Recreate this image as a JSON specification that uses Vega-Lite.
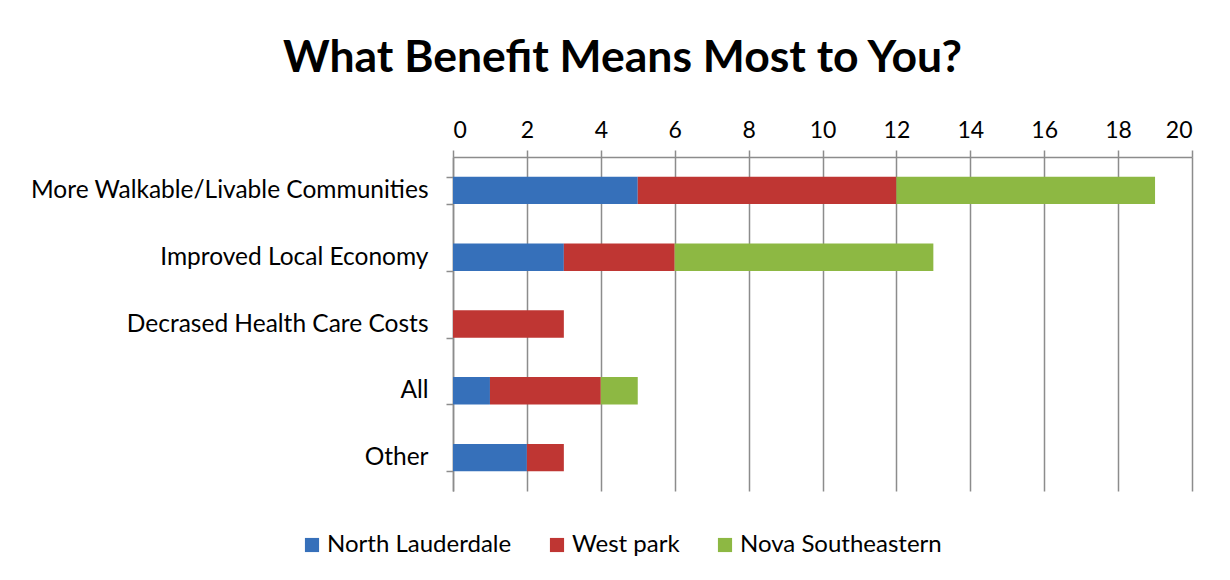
{
  "$schema": "https://vega.github.io/schema/vega-lite/v6.json",
  "width": 739,
  "height": 334,
  "autosize": "none",
  "padding": {"left": 453, "top": 157, "right": 38, "bottom": 89},
  "background": "white",
  "title": {
    "text": "What Benefit Means Most to You?",
    "font": "Lato",
    "fontSize": 44.5,
    "fontWeight": "bold",
    "color": "#000000",
    "anchor": "middle",
    "dx": -200,
    "offset": 38
  },
  "data": {
    "values": [
      {"benefit": "More Walkable/Livable Communities", "group": "North Lauderdale", "ord": 1, "count": 5},
      {"benefit": "More Walkable/Livable Communities", "group": "West park", "ord": 2, "count": 7},
      {"benefit": "More Walkable/Livable Communities", "group": "Nova Southeastern", "ord": 3, "count": 7},
      {"benefit": "Improved Local Economy", "group": "North Lauderdale", "ord": 1, "count": 3},
      {"benefit": "Improved Local Economy", "group": "West park", "ord": 2, "count": 3},
      {"benefit": "Improved Local Economy", "group": "Nova Southeastern", "ord": 3, "count": 7},
      {"benefit": "Decrased Health Care Costs", "group": "North Lauderdale", "ord": 1, "count": 0},
      {"benefit": "Decrased Health Care Costs", "group": "West park", "ord": 2, "count": 3},
      {"benefit": "Decrased Health Care Costs", "group": "Nova Southeastern", "ord": 3, "count": 0},
      {"benefit": "All", "group": "North Lauderdale", "ord": 1, "count": 1},
      {"benefit": "All", "group": "West park", "ord": 2, "count": 3},
      {"benefit": "All", "group": "Nova Southeastern", "ord": 3, "count": 1},
      {"benefit": "Other", "group": "North Lauderdale", "ord": 1, "count": 2},
      {"benefit": "Other", "group": "West park", "ord": 2, "count": 1},
      {"benefit": "Other", "group": "Nova Southeastern", "ord": 3, "count": 0}
    ]
  },
  "mark": {"type": "bar"},
  "encoding": {
    "y": {
      "field": "benefit",
      "type": "nominal",
      "sort": ["More Walkable/Livable Communities", "Improved Local Economy", "Decrased Health Care Costs", "All", "Other"],
      "scale": {"paddingInner": 0.59, "paddingOuter": 0.295},
      "axis": {
        "title": null,
        "tickBand": "extent",
        "tickSize": 7,
        "tickColor": "#8c8c8c",
        "domainColor": "#8c8c8c",
        "domainWidth": 1.5,
        "tickWidth": 1.5,
        "labelFont": "Lato",
        "labelFontSize": 24.5,
        "labelColor": "#000000",
        "labelPadding": 18,
        "labelLimit": 600
      }
    },
    "x": {
      "field": "count",
      "type": "quantitative",
      "stack": "zero",
      "scale": {"domain": [0, 20], "nice": false},
      "axis": {
        "orient": "top",
        "title": null,
        "values": [0, 2, 4, 6, 8, 10, 12, 14, 16, 18, 20],
        "grid": true,
        "gridColor": "#8c8c8c",
        "gridWidth": 1.5,
        "tickSize": 7,
        "tickColor": "#8c8c8c",
        "tickWidth": 1.5,
        "domainColor": "#8c8c8c",
        "domainWidth": 1.5,
        "labelFont": "Lato",
        "labelFontSize": 23,
        "labelColor": "#000000",
        "labelPadding": 8
      }
    },
    "color": {
      "field": "group",
      "type": "nominal",
      "scale": {
        "domain": ["North Lauderdale", "West park", "Nova Southeastern"],
        "range": ["#3670BA", "#BF3633", "#8DB843"]
      },
      "legend": {
        "title": null,
        "orient": "none",
        "direction": "horizontal",
        "legendX": -153,
        "legendY": 376,
        "symbolType": "square",
        "symbolSize": 200,
        "symbolStrokeWidth": 0,
        "labelFont": "Lato",
        "labelFontSize": 24,
        "labelColor": "#000000",
        "labelLimit": 400,
        "columnPadding": 33,
        "labelOffset": 3
      }
    },
    "order": {"field": "ord", "type": "quantitative"}
  },
  "config": {
    "view": {"stroke": null}
  }
}
